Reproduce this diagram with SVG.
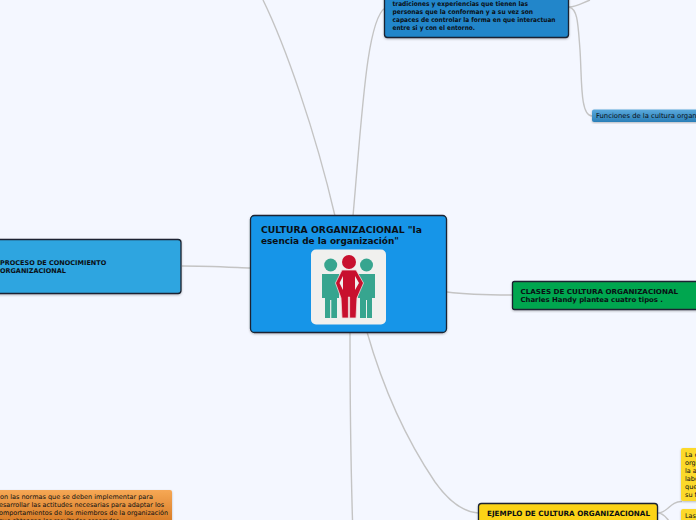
<svg xmlns="http://www.w3.org/2000/svg" width="696" height="520" viewBox="0 0 696 520">
<defs>
<linearGradient id="gT" x1="0" y1="0" x2="0" y2="1"><stop offset="0" stop-color="#5aa9dc"/><stop offset="1" stop-color="#2a7fb8"/></linearGradient>
<linearGradient id="gO" x1="0" y1="0" x2="0" y2="1"><stop offset="0" stop-color="#f6a855"/><stop offset="1" stop-color="#d0701a"/></linearGradient>
<filter id="s" x="-5%" y="-5%" width="110%" height="115%"><feDropShadow dx="0" dy="1" stdDeviation="1" flood-color="#000" flood-opacity="0.25"/></filter>
</defs>
<style>
text{font-family:"DejaVu Sans",Verdana,sans-serif;fill:#0a0f14}
.b{font-weight:700}
.t7{font-size:7px}
.t65{font-size:6.5px}
.c{fill:none;stroke:#c4c4c4;stroke-width:1.4}
.n{stroke:#1a2430;stroke-width:1.3;filter:url(#s)}
</style>
<rect width="696" height="520" fill="#f4f7ff"/>
<g id="connectors">
<path class="c" d="M263 0C285 45 315 130 335 216"/>
<path class="c" d="M353 216C358 160 362 100 368 60C371 40 376 14 385 8"/>
<path class="c" d="M569 7C577 7 582 3 590 0"/>
<path class="c" d="M569 7C578 9 578 25 580 50C582 80 580 116 592 116"/>
<path class="c" d="M251 268C225 267 205 266 182 266"/>
<path class="c" d="M447 292C470 295 490 295 512 295"/>
<path class="c" d="M367 332C385 395 410 445 435 482C450 503 465 512 478 513"/>
<path class="c" d="M350 332C350 400 351 470 352.500 520"/>
<path class="c" d="M658 513C668 513 670 501 682 501.500"/>
<path class="c" d="M658 513C664 513 666 518 670 522"/>
</g>
<g id="n-center">
<rect class="n" x="250.500" y="215.500" width="196" height="117" rx="4" fill="#1695e8"/>
<text class="b" x="261" y="233" font-size="9.300" textLength="161" lengthAdjust="spacingAndGlyphs">CULTURA ORGANIZACIONAL "la</text>
<text class="b" x="261" y="244" font-size="9.300" textLength="138" lengthAdjust="spacingAndGlyphs">esencia de la organización"</text>
<rect x="311" y="249.500" width="75" height="75" rx="5" fill="#f0f0ee"/>
<circle cx="330.700" cy="265" r="6.500" fill="#37a58f"/>
<circle cx="366.500" cy="265" r="6.500" fill="#37a58f"/>
<path d="M322 274H339V298H337V318H331.300V300H330.100V318H325V298H322Z" fill="#37a58f"/>
<path d="M358 274H375V298H372V318H367V300H366V318H360V298H358Z" fill="#37a58f"/>
<circle cx="349" cy="262" r="7" fill="#c8102e"/>
<path d="M342 270H356L363.500 283L357 298L356 318H349.600V297H348.400V318H342L341 298L335.500 283Z" fill="#c8102e" stroke="#f0dcdc" stroke-width="0.800"/>
<path d="M343 276L339.500 283L343 290ZM355 276V290L359 283Z" fill="#f0f0ee"/>
</g>
<g id="n-top">
<rect class="n" x="384.500" y="-10" width="184" height="47.500" rx="3" fill="#2186ca"/>
<text class="b t65" x="392.500" y="6" textLength="135.500" lengthAdjust="spacingAndGlyphs">tradiciones y experiencias que tienen las</text>
<text class="b t65" x="392.500" y="14" textLength="140.500" lengthAdjust="spacingAndGlyphs">personas que la conforman y a su vez son</text>
<text class="b t65" x="392.500" y="22" textLength="163" lengthAdjust="spacingAndGlyphs">capaces de controlar la forma en que interactuan</text>
<text class="b t65" x="392.500" y="30" textLength="82.500" lengthAdjust="spacingAndGlyphs">entre si y con el entorno.</text>
</g>
<g id="n-funciones">
<rect x="592" y="109.500" width="110" height="12.500" rx="2" fill="url(#gT)" filter="url(#s)"/>
<text x="596" y="118" font-size="6.800">Funciones de la cultura organiza</text>
</g>
<g id="n-proceso">
<rect class="n" x="-10" y="239.500" width="191" height="54" rx="3" fill="#2fa5e0"/>
<text class="b t65" x="0" y="265">PROCESO DE CONOCIMIENTO</text>
<text class="b t65" x="0" y="273">ORGANIZACIONAL</text>
</g>
<g id="n-clases">
<rect class="n" x="512.500" y="281.500" width="194" height="28" rx="2" fill="#04a64f"/>
<text class="b" x="520.500" y="294" font-size="6.900" textLength="157.500" lengthAdjust="spacingAndGlyphs">CLASES DE CULTURA ORGANIZACIONAL</text>
<text class="b" x="520.500" y="302" font-size="6.900">Charles Handy plantea cuatro tipos .</text>
</g>
<g id="n-normas">
<rect x="-10" y="490" width="182" height="40" rx="2" fill="url(#gO)" filter="url(#s)"/>
<text class="t65" x="0" y="499" textLength="153" lengthAdjust="spacingAndGlyphs">on las normas  que se deben implementar para</text>
<text class="t65" x="-1" y="507" textLength="165" lengthAdjust="spacingAndGlyphs">esarrollar las actitudes necesarias para adaptar los</text>
<text class="t65" x="-1" y="515" textLength="169" lengthAdjust="spacingAndGlyphs">omportamientos de los miembros de la organización</text>
<text class="t65" x="-1" y="523" textLength="120" lengthAdjust="spacingAndGlyphs">que obtengan los resultados esperados</text>
</g>
<g id="n-ejemplo">
<rect class="n" x="478.500" y="503.500" width="179" height="30" rx="3" fill="#fcd316"/>
<text class="b" x="487" y="516" font-size="7.300" textLength="163" lengthAdjust="spacingAndGlyphs">EJEMPLO DE CULTURA ORGANIZACIONAL</text>
</g>
<g id="n-y1">
<rect x="681" y="448" width="30" height="53" rx="2" fill="#fcd92a" filter="url(#s)"/>
<text class="t65" x="685" y="457">La c</text>
<text class="t65" x="685" y="465">orga</text>
<text class="t65" x="685" y="473">la a</text>
<text class="t65" x="685" y="481">labo</text>
<text class="t65" x="685" y="489">que</text>
<text class="t65" x="685" y="497">su f</text>
</g>
<g id="n-y2">
<rect x="681" y="509" width="30" height="20" rx="2" fill="#fcd92a" filter="url(#s)"/>
<text class="t65" x="685" y="518">Las</text>
</g>
</svg>
